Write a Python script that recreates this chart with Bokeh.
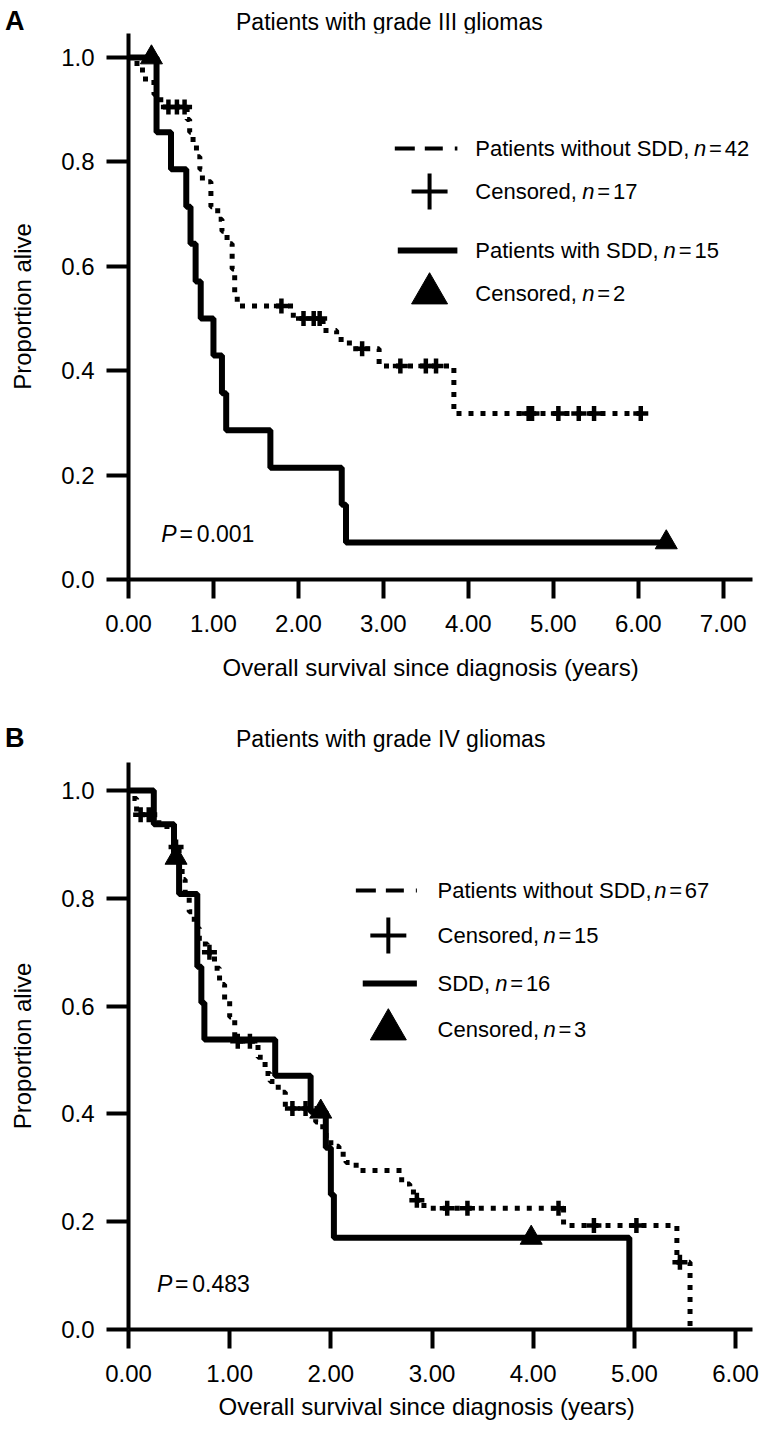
import numpy as np
from bokeh.plotting import figure
from bokeh.models import Range1d, FixedTicker, PrintfTickFormatter, Label, Title, Div
from bokeh.layouts import column
from bokeh.embed import file_html
from bokeh.resources import INLINE

FONT = "Liberation Sans"

# ---------------- Panel A: grade III ----------------
a_no_time = [0.00, 0.10, 0.20, 0.30, 0.38, 0.69, 0.72, 0.76, 0.80, 0.84, 0.87, 0.97,
             1.05, 1.10, 1.16, 1.22, 1.25, 1.28, 1.94, 2.29, 2.45, 2.60, 2.95, 3.83]
a_no_surv = [1.000, 0.976, 0.952, 0.929, 0.905, 0.881, 0.857, 0.833, 0.810, 0.786, 0.762, 0.714,
             0.690, 0.667, 0.643, 0.595, 0.548, 0.524, 0.500, 0.477, 0.460, 0.442, 0.409, 0.318]
a_no_end = 6.05
a_no_cens = [0.47, 0.57, 0.66, 1.80, 2.06, 2.18, 2.25, 2.75, 3.20, 3.50, 3.62,
             4.71, 4.75, 5.06, 5.30, 5.48, 6.03]

a_sdd_time = [0.00, 0.33, 0.50, 0.68, 0.73, 0.79, 0.85, 1.00, 1.10, 1.15, 1.67, 2.51, 2.56]
a_sdd_surv = [1.000, 0.857, 0.786, 0.714, 0.643, 0.571, 0.500, 0.429, 0.357, 0.286, 0.214, 0.143, 0.071]
a_sdd_end = 6.33
a_sdd_cens = [0.27, 6.33]

# ---------------- Panel B: grade IV ----------------
b_no_time = [0.00, 0.03, 0.08, 0.30, 0.38, 0.45, 0.50, 0.53, 0.56, 0.60, 0.65, 0.70, 0.78, 0.85,
             0.90, 0.95, 1.00, 1.05, 1.28, 1.35, 1.40, 1.48, 1.55, 1.85, 1.92, 2.00, 2.08, 2.15,
             2.25, 2.70, 2.78, 2.85, 2.92, 4.30, 5.42, 5.55]
b_no_surv = [1.000, 0.985, 0.955, 0.940, 0.925, 0.895, 0.865, 0.835, 0.805, 0.775, 0.745, 0.715,
             0.700, 0.670, 0.640, 0.610, 0.580, 0.535, 0.505, 0.475, 0.460, 0.440, 0.410, 0.385,
             0.360, 0.340, 0.325, 0.310, 0.295, 0.270, 0.255, 0.240, 0.225, 0.193, 0.125, 0.000]
b_no_end = 5.55
b_no_cens = [0.12, 0.20, 0.47, 0.80, 1.08, 1.20, 1.62, 1.75, 2.85, 3.15, 3.35, 4.25, 4.60, 5.02, 5.45]

b_sdd_time = [0.00, 0.25, 0.45, 0.50, 0.68, 0.72, 0.75, 1.45, 1.80, 1.95, 2.00, 2.03, 4.95]
b_sdd_surv = [1.000, 0.9375, 0.875, 0.808, 0.673, 0.606, 0.538, 0.471, 0.404, 0.337, 0.250, 0.170, 0.000]
b_sdd_end = 4.95
b_sdd_cens = [0.47, 1.90, 3.98]

# Arial/Liberation Sans advance widths (per 1000 em)
W = {' ': 278, ',': 278, '.': 278, '=': 584, 'P': 667, 'S': 667, 'D': 722, 'C': 722,
     'a': 556, 'c': 500, 'd': 556, 'e': 556, 'h': 556, 'i': 222, 'l': 222, 'n': 556,
     'o': 556, 'r': 333, 's': 500, 't': 278, 'u': 556, 'v': 500, 'w': 722}


def tw(text, size):
    return sum(W.get(c, 556) for c in text) * size / 1000.0


def surv_at(times, surv, t):
    i = np.searchsorted(np.array(times), t, side="right") - 1
    return surv[max(i, 0)]


def header(letter, title, height, letter_top, title_top):
    html = (f'<div style="position:relative;width:776px;height:{height}px;'
            f'font-family:\'Liberation Sans\',Arial,sans-serif;color:#000;">'
            f'<span style="position:absolute;left:5px;top:{letter_top}px;font-size:27px;'
            f'line-height:27px;font-weight:bold;">{letter}</span>'
            f'<span style="position:absolute;left:236px;top:{title_top}px;font-size:23px;'
            f'line-height:24px;white-space:nowrap;">{title}</span></div>')
    return Div(text=html, width=776, height=height, margin=(0, 0, 0, 0),
               styles={"overflow": "visible"})


def pieces(p, D, x0, yy, parts, fs):
    """Write a run of text pieces (text, style, gap_after_px) left to right."""
    for txt, style, gap in parts:
        dx, dy = D(x0, yy)
        p.add_layout(Label(x=dx, y=dy, text=txt, text_font=FONT, text_font_size=f"{fs}px",
                           text_font_style=style, text_baseline="middle", text_align="left",
                           text_color="black"))
        x0 += tw(txt, fs) + gap


def make_panel(geom, xmax_tick, data, legend, pval, xtitle_offset, xtitle_standoff):
    fx0, fy0, sx, sy, top_y, right_x, fig_top, fig_h = geom
    width = 776
    fw = right_x - fx0
    fh = fy0 - top_y
    p = figure(width=width, height=fig_h, output_backend="svg", toolbar_location=None,
               title=None, x_range=Range1d(0, fw / sx), y_range=Range1d(0, fh / sy),
               min_border_left=fx0, min_border_right=width - fx0 - fw,
               min_border_top=top_y - fig_top, min_border_bottom=fig_h - (top_y - fig_top) - fh)
    p.outline_line_color = None
    p.xgrid.visible = False
    p.ygrid.visible = False

    def D(px, py):
        return (px - fx0) / sx, (fy0 - py) / sy

    for ax in (p.xaxis[0], p.yaxis[0]):
        ax.axis_line_width = 4
        ax.axis_line_color = "black"
        ax.major_tick_line_width = 4
        ax.major_tick_line_color = "black"
        ax.major_tick_in = 0
        ax.minor_tick_line_color = None
        ax.major_label_text_font = FONT
        ax.major_label_text_font_size = "24px"
        ax.major_label_text_color = "black"
    p.xaxis[0].ticker = FixedTicker(ticks=list(range(0, xmax_tick + 1)))
    p.xaxis[0].formatter = PrintfTickFormatter(format="%.2f")
    p.xaxis[0].major_tick_out = 19
    p.xaxis[0].major_label_standoff = 16
    p.yaxis[0].ticker = FixedTicker(ticks=[0.0, 0.2, 0.4, 0.6, 0.8, 1.0])
    p.yaxis[0].formatter = PrintfTickFormatter(format="%.1f")
    p.yaxis[0].major_tick_out = 22
    p.yaxis[0].major_label_standoff = 12
    p.yaxis[0].axis_label = "Proportion alive"
    p.yaxis[0].axis_label_text_font = FONT
    p.yaxis[0].axis_label_text_font_size = "24px"
    p.yaxis[0].axis_label_text_font_style = "normal"
    p.yaxis[0].axis_label_text_color = "black"
    p.yaxis[0].axis_label_standoff = 22

    p.add_layout(Title(text="Overall survival since diagnosis (years)", align="left",
                       offset=xtitle_offset, text_font=FONT, text_font_size="24px",
                       text_font_style="normal", text_color="black",
                       standoff=xtitle_standoff), "below")

    (nt, ns, nend, nc), (st, ss, send, sc) = data
    # dotted: patients without SDD
    p.step(list(nt) + [nend], list(ns) + [ns[-1]], mode="after",
           line_color="black", line_width=5, line_dash="5 7")
    p.scatter(nc, [surv_at(nt, ns, t) for t in nc], marker="cross", size=15,
              line_width=4.5, line_color="black")
    # solid: patients with SDD
    p.step(list(st) + [send], list(ss) + [ss[-1]], mode="after",
           line_color="black", line_width=6)
    p.scatter(sc, [surv_at(st, ss, t) for t in sc], marker="triangle", size=22,
              fill_color="black", line_color="black")

    # ----- legend -----
    fs = 22
    (l1, l2, l3, l4), (xd0, xs0, xs1, xc, xtext), (y1, y2, y3, y4) = legend
    xa, ya = D(xd0, y1)
    xb, _ = D(xs1, y1)
    p.line([xa, xb], [ya, ya], line_color="black", line_width=4, line_dash="20 10 18 12")
    cx, cy = D(xc, y2)
    p.scatter([cx], [cy], marker="cross", size=36, line_width=4, line_color="black")
    xa, ya = D(xs0, y3)
    p.line([xa, xb], [ya, ya], line_color="black", line_width=6)
    cx, cy = D(xc, y4)
    p.scatter([cx], [cy], marker="triangle", size=36, fill_color="black", line_color="black")
    for (pre, num), yy in zip((l1, l2, l3, l4), (y1, y2, y3, y4)):
        pieces(p, D, xtext, yy, [(pre, "normal", tw(" ", fs)), ("n", "italic", 3),
                                 ("=", "normal", 3), (num, "normal", 0)], fs)

    # P value
    px, py, ptxt = pval
    pieces(p, D, px, py, [("P", "italic", 3), ("=", "normal", 4), (ptxt, "normal", 0)], 23)
    return p


# header A: page y 0..33 ; figure A: 33..712 ; header B: 712..762 ; figure B: 762..1435
hA = header("A", "Patients with grade III gliomas", 33, 8, 10)
pa = make_panel(
    (124, 579, 85.5, 522, 33, 752, 33, 679), 7,
    ((a_no_time, a_no_surv, a_no_end, a_no_cens), (a_sdd_time, a_sdd_surv, a_sdd_end, a_sdd_cens)),
    ((("Patients without SDD,", "42"), ("Censored,", "17"), ("Patients with SDD,", "15"),
      ("Censored,", "2")), (392, 395, 455, 427, 473), (148, 191, 250, 293)),
    (157, 533, "0.001"), 94, 34)

hB = header("B", "Patients with grade IV gliomas", 50, 13, 15)
pb = make_panel(
    (128, 1329, 102.8, 539, 762, 762, 762, 673), 6,
    ((b_no_time, b_no_surv, b_no_end, b_no_cens), (b_sdd_time, b_sdd_surv, b_sdd_end, b_sdd_cens)),
    ((("Patients without SDD,", "67"), ("Censored,", "15"), ("SDD,", "16"),
      ("Censored,", "3")), (359, 366, 421, 392, 442), (890, 935, 983, 1029)),
    (157, 1283, "0.483"), 90, 12)

layout = column(hA, pa, hB, pb, spacing=0)
open("out.html", "w").write(file_html(layout, INLINE))
